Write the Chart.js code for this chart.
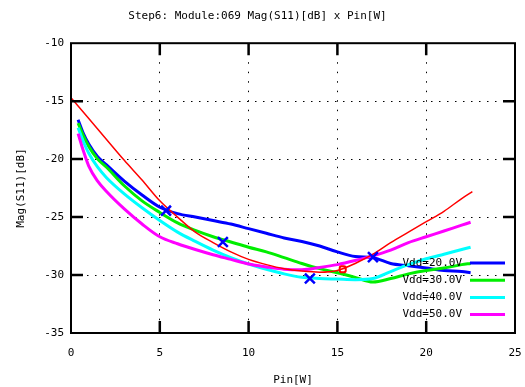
<!DOCTYPE html>
<html>
<head>
<meta charset="utf-8">
<script src="https://cdn.jsdelivr.net/npm/chart.js@4.4.1/dist/chart.umd.min.js"></script>
<style>
    html, body { margin: 0; padding: 0; background: #fff; }
    #wrap { width: 525px; height: 387px; }
</style>
</head>
<body>
<div id="wrap"><canvas id="s11Chart"></canvas></div>
<script>
/* ================================
   Data
================================ */
const pin = [0.4, 0.7, 1, 1.5, 2, 3, 4, 5, 6, 7, 8, 9, 10, 11, 12, 13, 14, 15, 16, 17, 18, 19, 20, 21, 22, 22.5];
const vdd20 = [-16.6, -17.8, -18.7, -19.8, -20.5, -21.9, -23.1, -24.15, -24.7, -25.0, -25.3, -25.6, -26.0, -26.4, -26.8, -27.1, -27.5, -28.0, -28.4, -28.5, -29.0, -29.2, -29.4, -29.6, -29.7, -29.8];
const vdd30 = [-16.9, -18.0, -18.9, -20.0, -20.7, -22.3, -23.6, -24.6, -25.5, -26.15, -26.7, -27.15, -27.6, -28.0, -28.5, -29.0, -29.45, -29.8, -30.2, -30.6, -30.3, -29.9, -29.6, -29.4, -29.1, -29.0];
const vdd40 = [-17.3, -18.5, -19.5, -20.7, -21.6, -23.0, -24.2, -25.3, -26.3, -27.1, -27.85, -28.5, -29.05, -29.5, -29.9, -30.2, -30.3, -30.35, -30.4, -30.3, -29.7, -29.1, -28.6, -28.2, -27.8, -27.6];
const vdd50 = [-17.8, -19.3, -20.6, -21.9, -22.8, -24.3, -25.6, -26.7, -27.3, -27.8, -28.25, -28.65, -29.05, -29.3, -29.5, -29.55, -29.35, -29.1, -28.75, -28.35, -27.85, -27.2, -26.7, -26.2, -25.7, -25.45];

// red fitted curve
const fitPin = [0, 1, 2, 3, 4, 5, 6, 7, 8, 9, 10, 11, 12, 13, 14, 15, 16, 17, 18, 19, 20, 21, 22, 22.6];
const fitVals = [-14.7, -16.5, -18.3, -20.1, -21.8, -23.6, -25.0, -26.3, -27.2, -28.0, -28.65, -29.1, -29.45, -29.65, -29.75, -29.6, -29.0, -28.2, -27.2, -26.3, -25.4, -24.5, -23.4, -22.8];

// blue X markers and the red optimum marker
const markPin = [5.35, 8.55, 13.45, 17.0];
const markVals = [-24.45, -27.15, -30.3, -28.45];
const optPin = [15.3];
const optVals = [-29.5];

const vddLabels = ["Vdd=20.0V", "Vdd=30.0V", "Vdd=40.0V", "Vdd=50.0V"];
const xTicks = [0, 5, 10, 15, 20, 25];
const yTicks = [-35, -30, -25, -20, -15, -10];

const FONT = "'DejaVu Sans Mono', monospace";

function toPoints(xs, ys) {
    return xs.map(function (x, i) {
        return { x: x, y: ys[i] };
    });
}

function vddSet(label, values, color, order) {
    return {
        label: label,
        data: toPoints(pin, values),
        borderColor: color,
        backgroundColor: color,
        borderWidth: 3,
        pointRadius: 0,
        cubicInterpolationMode: "monotone",
        inLegend: true,
        order: order,
    };
}

/* ================================
   Frame, inward ticks, legend
================================ */
const gnuplotFrame = {
    id: "gnuplotFrame",
    afterDraw: function (chart) {
        const ctx = chart.ctx;
        const a = chart.chartArea;
        const xs = chart.scales.x;
        const ys = chart.scales.y;
        ctx.save();
        ctx.strokeStyle = "#000";
        ctx.lineWidth = 2.5;
        xs.ticks.forEach(function (t) {
            if (t.value <= xs.min || t.value >= xs.max) return;
            const px = xs.getPixelForValue(t.value);
            ctx.beginPath();
            ctx.moveTo(px, a.bottom);
            ctx.lineTo(px, a.bottom - 12);
            ctx.moveTo(px, a.top);
            ctx.lineTo(px, a.top + 12);
            ctx.stroke();
        });
        ys.ticks.forEach(function (t) {
            if (t.value <= ys.min || t.value >= ys.max) return;
            const py = ys.getPixelForValue(t.value);
            ctx.beginPath();
            ctx.moveTo(a.left, py);
            ctx.lineTo(a.left + 12, py);
            ctx.moveTo(a.right, py);
            ctx.lineTo(a.right - 12, py);
            ctx.stroke();
        });
        ctx.lineWidth = 2;
        ctx.strokeRect(a.left, a.top, a.right - a.left, a.bottom - a.top);

        // legend, bottom right inside the frame
        ctx.font = "11px " + FONT;
        ctx.textAlign = "right";
        ctx.textBaseline = "middle";
        ctx.fillStyle = "#000";
        let row = 0;
        chart.data.datasets.forEach(function (ds) {
            if (!ds.inLegend) return;
            const y = 263 + row * 17.2;
            ctx.fillText(ds.label, 462, y);
            ctx.strokeStyle = ds.borderColor;
            ctx.lineWidth = 3;
            ctx.beginPath();
            ctx.moveTo(470, y);
            ctx.lineTo(505, y);
            ctx.stroke();
            row++;
        });
        ctx.restore();
    },
};

/* ================================
   Chart
================================ */
const ctx = document.getElementById("s11Chart").getContext("2d");
new Chart(ctx, {
    type: "line",
    data: {
        datasets: [
            vddSet(vddLabels[0], vdd20, "#0000ff", 6),
            vddSet(vddLabels[1], vdd30, "#00ee00", 5),
            vddSet(vddLabels[2], vdd40, "#00ffff", 4),
            vddSet(vddLabels[3], vdd50, "#ff00ff", 3),
            {
                label: "fit",
                data: toPoints(fitPin, fitVals),
                borderColor: "#ff0000",
                borderWidth: 1.5,
                pointRadius: 0,
                cubicInterpolationMode: "monotone",
                order: 2,
            },
            {
                label: "opt",
                data: toPoints(optPin, optVals),
                showLine: false,
                pointStyle: "rectRounded",
                pointRadius: 3.5,
                borderColor: "#ff0000",
                backgroundColor: "rgba(0,0,0,0)",
                pointBorderWidth: 2,
                order: 1,
            },
            {
                label: "marks",
                data: toPoints(markPin, markVals),
                showLine: false,
                pointStyle: "crossRot",
                pointRadius: 7,
                borderColor: "#0000ff",
                pointBorderWidth: 2.5,
                order: 0,
            },
        ],
    },
    options: {
        responsive: true,
        maintainAspectRatio: false,
        animation: false,
        layout: {
            padding: { left: 0, right: 10, top: 0, bottom: 0 },
        },
        plugins: {
            legend: { display: false },
            tooltip: { enabled: false },
            title: {
                display: true,
                text: "Step6: Module:069 Mag(S11)[dB] x Pin[W]",
                color: "#000",
                font: { family: FONT, size: 11, weight: "normal" },
                padding: { top: 10, bottom: 20 },
            },
        },
        scales: {
            x: {
                type: "linear",
                min: 0,
                max: 25,
                afterFit: function (s) {
                    s.height = 54;
                    s.paddingLeft = 0;
                    s.paddingRight = 0;
                },
                afterBuildTicks: function (s) {
                    s.ticks = xTicks.map(function (v) { return { value: v }; });
                },
                ticks: {
                    color: "#000",
                    padding: 14,
                    maxRotation: 0,
                    font: { family: FONT, size: 11 },
                },
                grid: {
                    color: "#000",
                    lineWidth: 1,
                    drawTicks: false,
                },
                border: { display: false, dash: [1.5, 8] },
                title: {
                    display: true,
                    text: "Pin[W]",
                    color: "#000",
                    font: { family: FONT, size: 11 },
                    padding: { top: 0, bottom: 0 },
                },
            },
            y: {
                type: "linear",
                min: -35,
                max: -10,
                afterFit: function (s) { s.width = 71; },
                afterBuildTicks: function (s) {
                    s.ticks = yTicks.map(function (v) { return { value: v }; });
                },
                ticks: {
                    color: "#000",
                    padding: 7,
                    font: { family: FONT, size: 11 },
                },
                grid: {
                    color: "#000",
                    lineWidth: 1,
                    drawTicks: false,
                },
                border: { display: false, dash: [1.5, 6.5] },
                title: {
                    display: true,
                    text: "Mag(S11)[dB]",
                    color: "#000",
                    font: { family: FONT, size: 11 },
                    padding: { top: 15, bottom: 0 },
                },
            },
        },
    },
    plugins: [gnuplotFrame],
});
</script>
</body>
</html>
